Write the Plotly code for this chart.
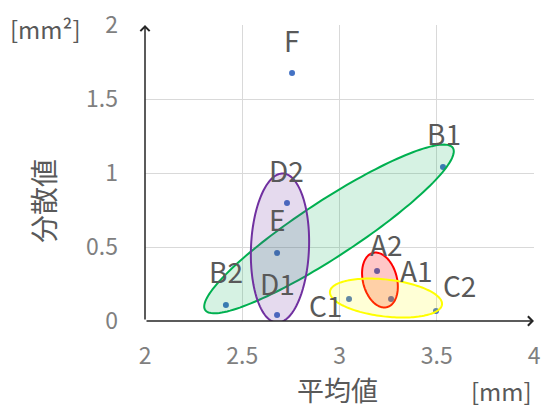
import numpy as np
import plotly.graph_objects as go

# Sample names and their statistics
names = ["A1", "A2", "B1", "B2", "C1", "C2", "D1", "D2", "E", "F"]
mean_mm = [3.265, 3.193, 3.532, 2.416, 3.049, 3.496, 2.679, 2.730, 2.679, 2.756]
var_mm2 = [0.149, 0.338, 1.041, 0.108, 0.149, 0.068, 0.041, 0.797, 0.459, 1.676]

x_ticks = [2, 2.5, 3, 3.5, 4]
y_ticks = [0, 0.5, 1, 1.5, 2]

# Label offsets from each point (pixels, right / up)
label_shift = {
    "A1": (25, 29), "A2": (9, 27), "B1": (1, 34), "B2": (0, 34),
    "C1": (-24, -6), "C2": (24, 26), "D1": (0, 32), "D2": (0, 33),
    "E": (0, 34), "F": (-1, 33),
}

W, H = 542, 408
ML, MR, MT, MB = 145, 8, 25, 87
XR, YR = (2, 4), (0, 2)
px_x = (W - ML - MR) / (XR[1] - XR[0])
px_y = (H - MT - MB) / (YR[1] - YR[0])

FONT = "Noto Sans CJK JP, Noto Sans, sans-serif"
LABEL_C = "#595959"
TICK_C = "#7f7f7f"


def ellipse_path(cx, cy, a_px, b_px, angle_deg, n=160):
    """Closed SVG path of a rotated ellipse; semi-axes given in screen pixels."""
    t = np.linspace(0, 2 * np.pi, n)
    th = np.radians(angle_deg)
    u, v = a_px * np.cos(t), b_px * np.sin(t)
    dx = u * np.cos(th) - v * np.sin(th)
    dy = u * np.sin(th) + v * np.cos(th)
    xs = cx + dx / px_x
    ys = cy + dy / px_y
    pts = [f"{x:.4f},{y:.4f}" for x, y in zip(xs, ys)]
    return "M" + " L".join(pts) + " Z"


# Group outlines: centre (data), semi-axes (px), rotation (deg), line, fill
groups = [
    dict(c=(2.946, 0.622), a=148, b=28, ang=33.2, line="#00b050", fill="rgba(0,176,80,0.16)"),
    dict(c=(2.694, 0.493), a=74.6, b=29, ang=87.7, line="#7030a0", fill="rgba(112,48,160,0.18)"),
    dict(c=(3.208, 0.277), a=28, b=17, ang=104.5, line="#ff0000", fill="rgba(255,0,0,0.22)"),
    dict(c=(3.239, 0.155), a=56.4, b=18.5, ang=-6.6, line="#ffff00", fill="rgba(255,255,0,0.16)"),
]

fig = go.Figure()

shapes = []
for g in groups:
    shapes.append(dict(
        type="path", xref="x", yref="y",
        path=ellipse_path(g["c"][0], g["c"][1], g["a"], g["b"], g["ang"]),
        line=dict(color=g["line"], width=2), fillcolor=g["fill"], layer="above",
    ))

fig.add_trace(go.Scatter(
    x=mean_mm, y=var_mm2, mode="markers",
    marker=dict(color="#4472c4", size=6),
    cliponaxis=False, showlegend=False, hoverinfo="skip",
))

annotations = []
for n_, x, y in zip(names, mean_mm, var_mm2):
    sx, sy = label_shift[n_]
    annotations.append(dict(
        x=x, y=y, xref="x", yref="y", text=n_, showarrow=False,
        xshift=sx, yshift=sy, xanchor="center", yanchor="middle",
        font=dict(family=FONT, size=28, color=LABEL_C),
    ))

# Axis arrows
arrow_style = dict(text="", showarrow=True, arrowhead=4, arrowsize=1.2,
                   arrowwidth=1.5, arrowcolor="#262626", axref="x", ayref="y",
                   xref="x", yref="y")
annotations.append(dict(x=XR[1], y=YR[0], ax=XR[0], ay=YR[0], **arrow_style))
annotations.append(dict(x=XR[0], y=YR[1], ax=XR[0], ay=YR[0], **arrow_style))


def paper(px, py):
    return (px - ML) / (W - ML - MR), (H - MB - py) / (H - MT - MB)


def text_at(px, py, s, size, angle=0):
    xp, yp = paper(px, py)
    annotations.append(dict(
        x=xp, y=yp, xref="paper", yref="paper", text=s, showarrow=False,
        xanchor="center", yanchor="middle", textangle=angle, borderpad=0,
        font=dict(family=FONT, size=size, color=LABEL_C),
    ))


text_at(43, 201, "分散値", 28, -90)
text_at(337, 389, "平均値", 27)
text_at(45, 29, "[mm²]", 24)
text_at(501, 390, "[mm]", 24)

fig.update_layout(
    width=W, height=H,
    margin=dict(l=ML, r=MR, t=MT, b=MB, autoexpand=False),
    paper_bgcolor="white", plot_bgcolor="white",
    shapes=shapes, annotations=annotations,
    xaxis=dict(range=list(XR), tickvals=x_ticks, ticktext=[f"{v:g}" for v in x_ticks],
               showgrid=True, gridcolor="#d9d9d9", gridwidth=1, automargin=False,
               zeroline=False, showline=False, ticks="", ticklabelstandoff=19,
               tickfont=dict(family=FONT, size=23, color=TICK_C)),
    yaxis=dict(range=list(YR), tickvals=y_ticks, ticktext=[f"{v:g}" for v in y_ticks],
               showgrid=True, gridcolor="#d9d9d9", gridwidth=1, automargin=False,
               zeroline=False, showline=False, ticks="", ticklabelstandoff=26,
               tickfont=dict(family=FONT, size=23, color=TICK_C)),
)

fig.write_html("out.html")
